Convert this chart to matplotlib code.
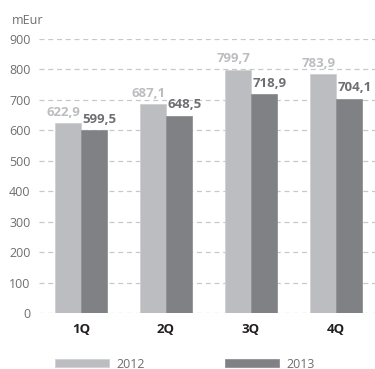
import numpy as np
import matplotlib
matplotlib.use("Agg")
import matplotlib.pyplot as plt

plt.rcParams['font.family'] = ['Open Sans', 'DejaVu Sans']

# Dados (mEur por trimestre)
quarters = ["1Q", "2Q", "3Q", "4Q"]
years = ["2012", "2013"]
vals_2012 = [622.9, 687.1, 799.7, 783.9]
vals_2013 = [599.5, 648.5, 718.9, 704.1]
y_ticks = [0, 100, 200, 300, 400, 500, 600, 700, 800, 900]

c_2012 = "#bcbdc0"
c_2013 = "#808184"
c_text = "#6d6e71"

fig = plt.figure(figsize=(3.75, 3.69), dpi=100)
ax = fig.add_axes([39 / 375, 56 / 369, 1 - 39 / 375, (313 - 39) / 369])

x = np.arange(len(quarters))
w = 0.31

b1 = ax.bar(x - w / 2, vals_2012, w, color=c_2012, label=years[0], zorder=2,
            edgecolor="#d0d1d3", linewidth=0.6)
b2 = ax.bar(x + w / 2, vals_2013, w, color=c_2013, label=years[1], zorder=2,
            edgecolor="#909194", linewidth=0.6)

# rótulos de valores com vírgula decimal
for xi, v in zip(x, vals_2012):
    ax.annotate(f"{v:.1f}".replace(".", ","), (xi - w / 2, v), xytext=(-3, 3),
                textcoords="offset points", ha="center", va="bottom",
                fontsize=9.5, fontweight="bold", color=c_2012)
for xi, v in zip(x, vals_2013):
    ax.annotate(f"{v:.1f}".replace(".", ","), (xi + w / 2, v), xytext=(4, 3),
                textcoords="offset points", ha="center", va="bottom",
                fontsize=9.5, fontweight="bold", color=c_text)

ax.set_xlim(-0.494, 3.46)
ax.set_ylim(0, 900)
ax.set_yticks(y_ticks)
ax.set_xticks(x)
ax.set_xticklabels(quarters, fontweight="bold", color="#231f20", fontsize=9.5)
ax.tick_params(axis="x", length=0, pad=7)
ax.tick_params(axis="y", length=0, pad=6, labelsize=9, labelcolor=c_text)
ax.yaxis.grid(True, linestyle=(0, (4, 3)), color="#c8c8c8", linewidth=0.9, zorder=0)
ax.set_axisbelow(True)
for s in ax.spines.values():
    s.set_visible(False)

fig.text(12 / 375, 1 - 20 / 369, "mEur", fontsize=9, color=c_text, va="center", ha="left")

leg = fig.legend(handles=[b1, b2], labels=years, loc="center left",
                 bbox_to_anchor=(55 / 375, 5 / 369), ncol=2, frameon=False,
                 fontsize=9, handlelength=4.3, handleheight=0.65,
                 handletextpad=0.6, columnspacing=6.4, borderpad=0,
                 borderaxespad=0)
for t in leg.get_texts():
    t.set_color(c_text)

fig.savefig("out.png", dpi=100)
